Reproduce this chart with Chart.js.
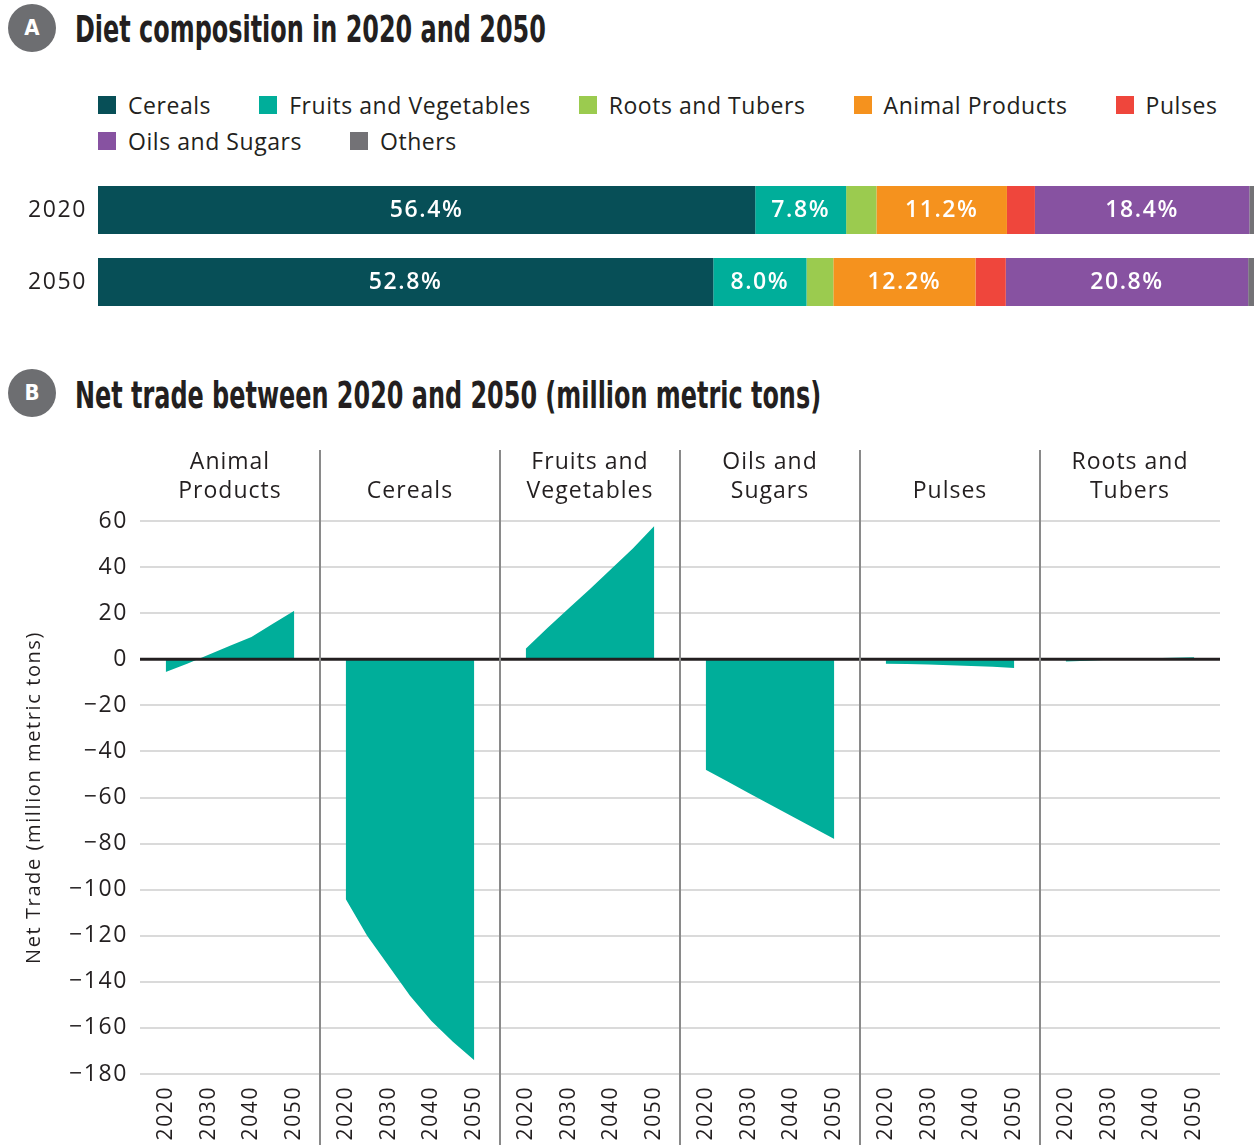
<!DOCTYPE html>
<html>
<head>
<meta charset="utf-8">
<script src="https://cdn.jsdelivr.net/npm/chart.js"></script>
<style>
    html, body {
        margin: 0;
        padding: 0;
        background: #ffffff;
    }
    body {
        position: relative;
        width: 1254px;
        height: 1145px;
        overflow: hidden;
        font-family: 'Open Sans', 'Noto Sans', sans-serif;
        color: #231f20;
    }
    .badge {
        position: absolute;
        left: 8px;
        width: 48px;
        height: 48px;
        border-radius: 50%;
        background: #6d6e71;
        color: #ffffff;
        font-family: 'Liberation Sans Narrow', 'DejaVu Sans Condensed', sans-serif;
        font-weight: bold;
        font-size: 22px;
        line-height: 48px;
        text-align: center;
    }
    .section-title {
        position: absolute;
        left: 75px;
        font-family: 'Liberation Sans Narrow', 'DejaVu Sans Condensed', sans-serif;
        font-weight: bold;
        font-size: 38px;
        line-height: 48px;
        white-space: nowrap;
        transform-origin: left center;
        transform: scaleX(0.7);
        color: #231f20;
    }
    #dietLegend {
        position: absolute;
        left: 98px;
        top: 87px;
        width: 1156px;
        display: flex;
        flex-wrap: wrap;
        column-gap: 48px;
    }
    .legend-item {
        display: flex;
        align-items: center;
        height: 36px;
        font-size: 23px;
        letter-spacing: 0.55px;
        white-space: nowrap;
    }
    .legend-box {
        width: 18px;
        height: 18px;
        margin-right: 12px;
    }
    .legend-break {
        flex-basis: 100%;
        height: 0;
    }
    canvas {
        position: absolute;
        left: 0;
    }
</style>
</head>
<body>
<div class="badge" style="top: 4px;">A</div>
<div class="section-title" style="top: 5px;">Diet composition in 2020 and 2050</div>
<div id="dietLegend"></div>
<canvas id="dietChart" width="1254" height="144" style="top: 174px;"></canvas>

<div class="badge" style="top: 369px;">B</div>
<div class="section-title" style="top: 371px;">Net trade between 2020 and 2050 (million metric tons)</div>
<canvas id="tradeChart" width="1254" height="705" style="top: 440px;"></canvas>

<script>
// ---- panel A data ----
const dietYears = ['2020', '2050'];
const dietCategories = ['Cereals', 'Fruits and Vegetables', 'Roots and Tubers', 'Animal Products', 'Pulses', 'Oils and Sugars', 'Others'];
const diet2020 = [56.4, 7.8, 2.6, 11.2, 2.4, 18.4, 1.2];
const diet2050 = [52.8, 8.0, 2.3, 12.2, 2.6, 20.8, 1.3];
const dietColors = ['#074f57', '#00ae9a', '#9bcb4f', '#f5921e', '#ef463c', '#8752a1', '#737276'];

// ---- panel B data ----
const tradeYears = [2020, 2025, 2030, 2035, 2040, 2045, 2050];
const tradeYearTicks = [2020, 2030, 2040, 2050];
const tradeCategories = ['Animal Products', 'Cereals', 'Fruits and Vegetables', 'Oils and Sugars', 'Pulses', 'Roots and Tubers'];
const tradeTitles = [['Animal', 'Products'], ['Cereals'], ['Fruits and', 'Vegetables'], ['Oils and', 'Sugars'], ['Pulses'], ['Roots and', 'Tubers']];
const animalProducts = [-5.5, -2.0, 2.0, 5.9, 9.7, 15.4, 21.0];
const cereals = [-104, -120, -133, -146, -157, -166, -174];
const fruitsVegetables = [4.6, 13.5, 22, 30.5, 39.3, 48.1, 57.8];
const oilsSugars = [-48, -53, -58, -63, -68, -73, -78];
const pulses = [-1.9, -2.1, -2.3, -2.6, -2.9, -3.3, -3.8];
const rootsTubers = [-1.0, -0.6, -0.2, 0.1, 0.4, 0.7, 0.9];
const tradeValues = [animalProducts, cereals, fruitsVegetables, oilsSugars, pulses, rootsTubers];

const textColor = '#231f20';
const areaColor = '#00ae9a';
const fontFamily = "'Open Sans', 'Noto Sans', sans-serif";
// each facet covers 42 years on one shared linear axis (2014..2056)
const panelSpan = 42;
const panelStart = 2014;

function buildLegend() {
    const legend = document.getElementById('dietLegend');
    dietCategories.forEach((name, i) => {
        const item = document.createElement('div');
        item.className = 'legend-item';
        const box = document.createElement('span');
        box.className = 'legend-box';
        box.style.background = dietColors[i];
        item.appendChild(box);
        item.appendChild(document.createTextNode(name));
        legend.appendChild(item);
        if (i === 4) {
            const br = document.createElement('div');
            br.className = 'legend-break';
            legend.appendChild(br);
        }
    });
}

// the original type is a little wider than Open Sans, so space the letters out
const spacingPlugin = {
    id: 'spacing',
    beforeDraw(chart) {
        chart.ctx.letterSpacing = '1.6px';
    }
};

const barLabelPlugin = {
    id: 'barLabels',
    afterDatasetsDraw(chart) {
        const ctx = chart.ctx;
        ctx.save();
        ctx.fillStyle = '#ffffff';
        ctx.font = '600 23px ' + fontFamily;
        ctx.textAlign = 'center';
        ctx.textBaseline = 'middle';
        chart.data.datasets.forEach((ds, i) => {
            const meta = chart.getDatasetMeta(i);
            meta.data.forEach((bar, j) => {
                const v = ds.data[j];
                if (v < 5) return;
                ctx.fillText(v.toFixed(1) + '%', (bar.x + bar.base) / 2, bar.y);
            });
        });
        ctx.restore();
    }
};

function renderDietChart() {
    const ctx = document.getElementById('dietChart').getContext('2d');
    new Chart(ctx, {
        type: 'bar',
        data: {
            labels: dietYears,
            datasets: dietCategories.map((name, i) => ({
                label: name,
                data: [diet2020[i], diet2050[i]],
                backgroundColor: dietColors[i],
                borderWidth: 0,
                categoryPercentage: 1,
                barPercentage: 48 / 72,
            }))
        },
        options: {
            indexAxis: 'y',
            responsive: false,
            animation: false,
            devicePixelRatio: 1,
            layout: { padding: 0 },
            scales: {
                x: {
                    stacked: true,
                    min: 0,
                    max: 99.2,
                    display: false,
                },
                y: {
                    stacked: true,
                    grid: { display: false, drawTicks: false },
                    border: { display: false },
                    ticks: {
                        color: textColor,
                        font: { family: fontFamily, size: 23 },
                        padding: 11,
                    },
                    afterFit: (scale) => {
                        scale.width = 98;
                        scale.paddingTop = 0;
                        scale.paddingBottom = 0;
                    },
                },
            },
            plugins: {
                legend: { display: false },
                tooltip: { enabled: false },
            },
        },
        plugins: [spacingPlugin, barLabelPlugin],
    });
}

const facetPlugin = {
    id: 'facets',
    afterDatasetsDraw(chart) {
        const ctx = chart.ctx;
        const area = chart.chartArea;
        const y0 = chart.scales.y.getPixelForValue(0);
        ctx.save();
        ctx.strokeStyle = textColor;
        ctx.lineWidth = 3;
        ctx.beginPath();
        ctx.moveTo(area.left, y0);
        ctx.lineTo(area.right, y0);
        ctx.stroke();
        ctx.restore();
    },
    afterDraw(chart) {
        const ctx = chart.ctx;
        const xScale = chart.scales.x;
        ctx.save();
        ctx.strokeStyle = '#8a8a8a';
        ctx.lineWidth = 2;
        for (let i = 1; i < tradeCategories.length; i++) {
            const x = Math.round(xScale.getPixelForValue(i * panelSpan));
            ctx.beginPath();
            ctx.moveTo(x, 10);
            ctx.lineTo(x, chart.height);
            ctx.stroke();
        }
        ctx.fillStyle = textColor;
        ctx.font = '23px ' + fontFamily;
        ctx.letterSpacing = '1px';
        ctx.textAlign = 'center';
        ctx.textBaseline = 'middle';
        tradeTitles.forEach((lines, i) => {
            const x = xScale.getPixelForValue(i * panelSpan + panelSpan / 2);
            const offset = 2 - lines.length;
            lines.forEach((line, k) => {
                ctx.fillText(line, x, 22 + (k + offset) * 29);
            });
        });
        ctx.restore();
    }
};

function renderTradeChart() {
    const ctx = document.getElementById('tradeChart').getContext('2d');
    new Chart(ctx, {
        type: 'line',
        data: {
            datasets: tradeCategories.map((name, i) => ({
                label: name,
                data: tradeYears.map((yr, k) => ({ x: i * panelSpan + yr - panelStart, y: tradeValues[i][k] })),
                fill: 'origin',
                backgroundColor: areaColor,
                borderColor: 'rgba(0,0,0,0)',
                borderWidth: 1,
                pointRadius: 0,
                tension: 0,
            }))
        },
        options: {
            responsive: false,
            animation: false,
            devicePixelRatio: 1,
            layout: { padding: { top: 81, right: 34, left: 0, bottom: 0 } },
            scales: {
                x: {
                    type: 'linear',
                    min: 0,
                    max: panelSpan * tradeCategories.length,
                    grid: { display: false, drawTicks: false },
                    border: { display: false },
                    afterBuildTicks: (scale) => {
                        const ticks = [];
                        tradeCategories.forEach((name, i) => {
                            tradeYearTicks.forEach((yr) => ticks.push({ value: i * panelSpan + yr - panelStart }));
                        });
                        scale.ticks = ticks;
                    },
                    ticks: {
                        autoSkip: false,
                        minRotation: 90,
                        maxRotation: 90,
                        padding: 12,
                        color: textColor,
                        font: { family: fontFamily, size: 21 },
                        callback: (value) => String(panelStart + (value % panelSpan)),
                    },
                    afterFit: (scale) => { scale.height = 71; },
                },
                y: {
                    min: -180,
                    max: 60,
                    grid: { color: '#dadada', lineWidth: 2, drawTicks: false },
                    border: { display: false },
                    ticks: {
                        stepSize: 20,
                        padding: 12,
                        color: textColor,
                        font: { family: fontFamily, size: 23 },
                        callback: (v) => (v < 0 ? '\u2212' + Math.abs(v) : String(v)),
                    },
                    title: {
                        display: true,
                        text: 'Net Trade (million metric tons)',
                        color: textColor,
                        font: { family: fontFamily, size: 20 },
                        padding: { top: 22, bottom: 0 },
                    },
                    afterFit: (scale) => { scale.width = 140; },
                },
            },
            plugins: {
                legend: { display: false },
                tooltip: { enabled: false },
            },
        },
        plugins: [spacingPlugin, facetPlugin],
    });
}

buildLegend();
renderDietChart();
renderTradeChart();
</script>
</body>
</html>
